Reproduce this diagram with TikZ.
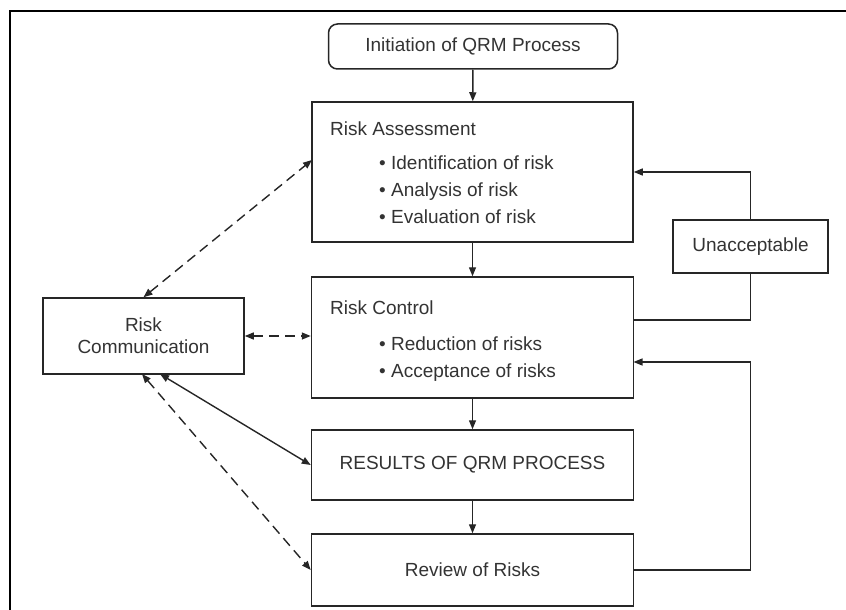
\documentclass[tikz,border=0pt]{standalone}
\usepackage{fontspec}
\setmainfont{Liberation Sans}
\usetikzlibrary{arrows.meta,calc}
\tikzset{
  box/.style={draw=black!85, line width=1.5pt, minimum width=#1, inner sep=0pt, text=black!80},
  txt/.style={anchor=base west, inner sep=0pt, text=black!80},
  link/.style={draw=black!85, line width=1.4pt},
  arr/.style={link, -{Triangle[length=9pt,width=7pt]}},
  darr/.style={link, {Triangle[length=9pt,width=7pt]}-{Triangle[length=9pt,width=7pt]}},
  dsh/.style={dash pattern=on 10pt off 6pt}
}
\begin{document}
\begin{tikzpicture}[x=1pt,y=-1pt,font=\fontsize{19}{23}\selectfont]
\useasboundingbox (0,0) rectangle (846,610);
\draw[line width=1.8pt] (10,612) -- (10,11) -- (848,11);
% nodes
\node[box=289pt, minimum height=45pt, rounded corners=9pt] (init) at (473,46.5) {Initiation of QRM Process};
\node[box=321pt, minimum height=140pt] (ra) at (472.5,172) {};
\node[box=322pt, minimum height=121pt] (rc) at (472.5,337.5) {};
\node[box=322pt, minimum height=70pt] (res) at (472.5,465) {RESULTS OF QRM PROCESS};
\node[box=322pt, minimum height=72pt] (rev) at (472.5,570) {Review of Risks};
\node[box=201pt, minimum height=76pt, align=center] (comm) at (143.5,336) {Risk\\[-1pt]Communication};
\node[box=155pt, minimum height=53pt] (un) at (750.5,246.5) {Unacceptable};
% inner texts
\node[txt] (raT) at (330,135) {Risk Assessment};
\node[txt] (ra1) at (379,169) {• Identification of risk};
\node[txt] (ra2) at (379,196) {• Analysis of risk};
\node[txt] (ra3) at (379,223) {• Evaluation of risk};
\node[txt] (rcT) at (330,314) {Risk Control};
\node[txt] (rc1) at (379,350) {• Reduction of risks};
\node[txt] (rc2) at (379,377) {• Acceptance of risks};
% coordinates
\coordinate (raL) at (312,160);
\coordinate (rcA) at (633.5,320);
\coordinate (rcB) at (633.5,362);
\coordinate (cmA) at (160,374);
\coordinate (cmB) at (142,374);
% main flow
\draw[arr] (init) -- (ra);
\draw[arr] (ra) -- (rc);
\draw[arr] (rc) -- (res);
\draw[arr] (res) -- (rev);
% loops
\draw[arr] (un.north) |- (ra.east);
\draw[link] (un.south) |- (rcA);
\draw[arr] (rev.east) -- (rev.east -| un.south) |- (rcB);
% communication
\draw[darr,dsh] (comm.north) -- (raL);
\draw[darr,dsh] (comm.east) -- (rc.west |- comm.east);
\draw[darr] (cmA) -- (res.west);
\draw[darr,dsh] (cmB) -- (rev.west);
\end{tikzpicture}
\end{document}
